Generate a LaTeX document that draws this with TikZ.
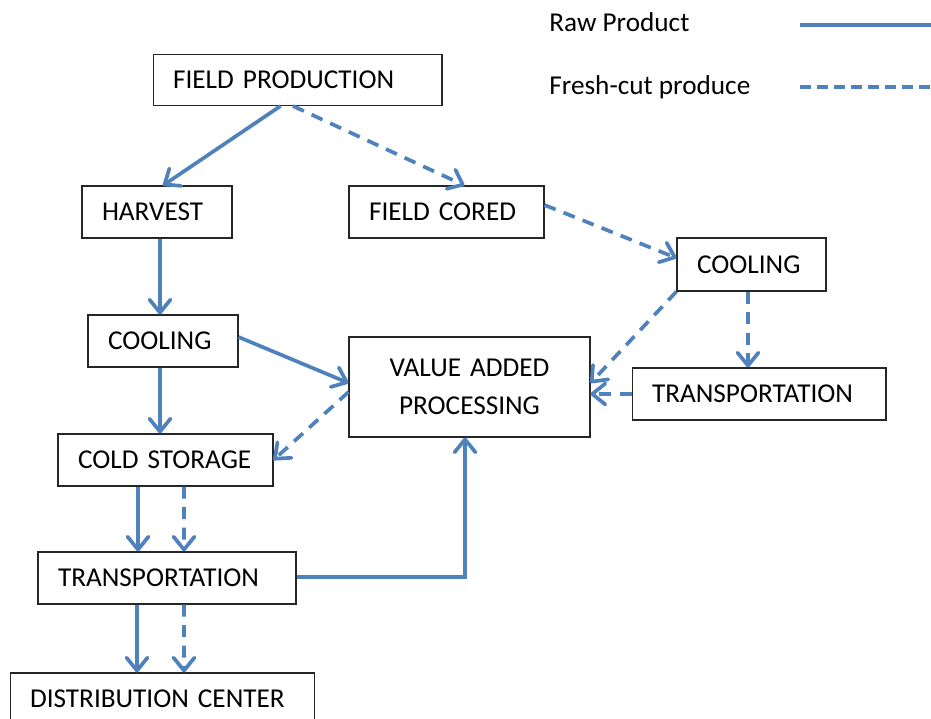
\documentclass[tikz,border=0pt]{standalone}
\usepackage{fontspec}
\setmainfont{Carlito}
\usetikzlibrary{arrows.meta,calc}
\definecolor{flowblue}{HTML}{4F81BD}
\tikzset{
	box/.style={draw=black!85, line width=0.6pt, rectangle, inner ysep=0pt, inner xsep=0.4cm, align=left},
	raw/.style={draw=flowblue, line width=2.1pt, -{Straight Barb[length=0.26cm,width=0.42cm,round]}},
	fresh/.style={raw, dash pattern=on 0.24cm off 0.17cm},
	legendline/.style={draw=flowblue, line width=2.1pt},
}

\begin{document}
\begin{tikzpicture}[x=0.02cm, y=-0.02cm, font=\fontsize{15.5}{18.6}\selectfont]
			%%%%% START %%%%%
			\useasboundingbox (0, 0) rectangle (931, 719);
			
			% legend
			\node[anchor=base west, inner sep=0pt] (rawlabel) at (549, 32) {Raw Product};
			\node[anchor=base west, inner sep=0pt] (freshlabel) at (549, 95) {Fresh-cut produce};
			\coordinate (rawa) at (800, 25);
			\coordinate (rawb) at (931, 25);
			\coordinate (fresha) at (800, 87);
			\coordinate (freshb) at (931, 87);
			\draw[legendline] (rawa) -- (rawb);
			\draw[legendline, dash pattern=on 0.22cm off 0.12cm] (fresha) -- (freshb);
			
			% boxes
			\node[box, text width=4.98cm, minimum height=1.02cm] (fieldprod) at (297.5, 80) {FIELD PRODUCTION};
			\node[box, text width=2.2cm, minimum height=1.04cm] (harvest) at (157, 212) {HARVEST};
			\node[box, text width=3.1cm, minimum height=1.04cm] (cored) at (446.5, 212) {FIELD CORED};
			\node[box, text width=2.18cm, minimum height=1.06cm] (coolR) at (751.5, 264.5) {COOLING};
			\node[box, text width=2.2cm, minimum height=1.04cm] (coolL) at (163, 341) {COOLING};
			\node[box, text width=4.02cm, minimum height=2cm, align=center, font=\fontsize{15.5}{21.5}\selectfont] (vap) at (469.5, 387) {VALUE ADDED\\PROCESSING};
			\node[box, text width=4.28cm, minimum height=1.04cm] (transR) at (759, 394) {TRANSPORTATION};
			\node[box, text width=3.5cm, minimum height=1.04cm] (cold) at (165.5, 460) {COLD STORAGE};
			\node[box, text width=4.36cm, minimum height=1.04cm] (transL) at (167, 578) {TRANSPORTATION};
			\node[box, text width=5.3cm, minimum height=1.04cm] (dist) at (162.5, 699) {DISTRIBUTION CENTER};
			
			% raw product
			\draw[raw] ($(fieldprod.south)+(-17,0)$) -- ($(harvest.north)+(6,0)$);
			\draw[raw] ($(harvest.south)+(3,0)$) -- ($(coolL.north)+(-3,0)$);
			\draw[raw] ($(coolL.east)+(0,-4)$) -- ($(vap.west)+(0,-4)$);
			\draw[raw] ($(coolL.south)+(-3,0)$) -- ($(cold.north)+(-5.5,0)$);
			\draw[raw] ($(cold.south)+(-27.5,0)$) -- ($(transL.north)+(-29,0)$);
			\draw[raw] ($(transL.east)+(0,-1)$) -| ($(vap.south)+(-4.5,0)$);
			\draw[raw] ($(transL.south)+(-30,0)$) -- ($(dist.north)+(-25.5,0)$);
			
			% fresh-cut produce
			\draw[fresh] ($(fieldprod.south)+(-4.5,0)$) -- ($(cored.north)+(18,0)$);
			\draw[fresh] ($(cored.east)+(0,-7)$) -- ($(coolR.west)+(0,-6.5)$);
			\draw[fresh] (coolR.south west) -- ($(vap.east)+(0,-4)$);
			\draw[fresh] ($(coolR.south)+(-3.5,0)$) -- ($(transR.north)+(-11,0)$);
			\draw[fresh] (transR.west) -- ($(vap.east)+(0,7)$);
			\draw[fresh] ($(vap.west)+(0,5)$) -- (cold.east);
			\draw[fresh] ($(cold.south)+(18.5,0)$) -- ($(transL.north)+(17,0)$);
			\draw[fresh] ($(transL.south)+(17,0)$) -- ($(dist.north)+(21.5,0)$);
			
			%%%%% END %%%%%
\end{tikzpicture}
\end{document}
